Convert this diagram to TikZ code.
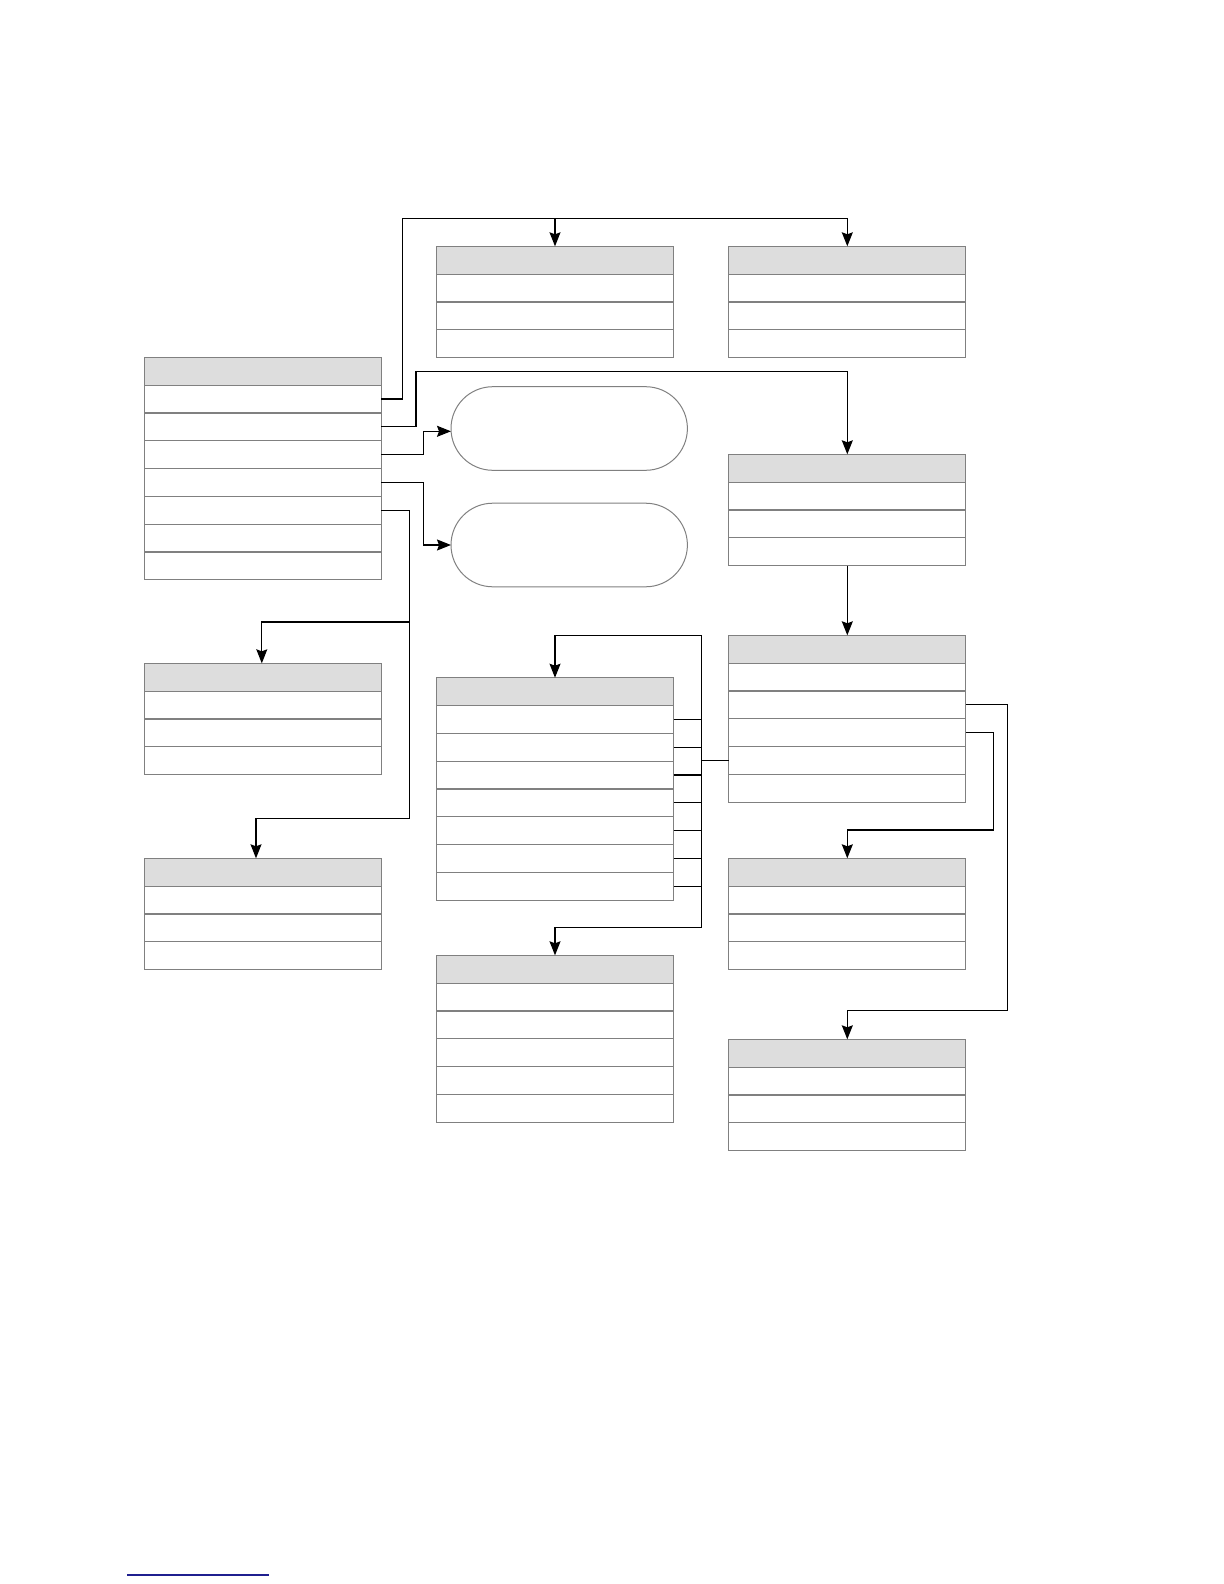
\documentclass[tikz,border=0pt]{standalone}
\usetikzlibrary{arrows.meta}
\definecolor{headgray}{HTML}{DDDDDD}
\definecolor{edgegray}{HTML}{808080}
\definecolor{linkblue}{HTML}{1F1F8F}
\begin{document}
\begin{tikzpicture}[x=0.5pt,y=-0.5pt,
    rowbox/.style={rectangle,draw=edgegray,line width=0.6pt,minimum width=118.5pt,minimum height=13.9pt,inner sep=0pt,outer sep=0pt},
    pill/.style={rectangle,draw=edgegray,line width=0.5pt,rounded corners=20.9pt,minimum width=118.2pt,minimum height=41.8pt,inner sep=0pt,outer sep=0pt},
    link/.style={draw=black,line width=0.6pt},
    flow/.style={link,-{Stealth[length=7pt,width=5.5pt,inset=1pt]}}]

  \useasboundingbox (0,0) rectangle (1224,1584);

  % tables: name / centre x / top / rows
  \begin{scope}[every node/.style={rowbox}]
    \foreach \nm/\cx/\cy/\nr in {A/262.8/357.3/7, B/555/246.3/3, C/847.3/246.3/3,
        K/847.3/454.3/3, E/847.3/635.3/5, D/555/677.7/7, F/847.3/858.3/3,
        G/555/955.3/5, H/847.3/1039.3/3, I/262.8/663.3/3, J/262.8/858.3/3}{
      \node[fill=headgray] (\nm0) at (\cx,{\cy+13.9}) {};
      \foreach \i in {1,...,\nr}
        \node (\nm\i) at (\cx,{\cy+13.9+27.8*\i}) {};
    }
  \end{scope}

  \node[pill] (P1) at (569.2,428.5) {};
  \node[pill] (P2) at (569.2,545) {};

  \coordinate (c1) at (402.3,218.3);
  \coordinate (c2) at (416,371.3);
  \coordinate (c3) at (423.3,431.3);
  \coordinate (c4) at (423.3,545);
  \coordinate (c5) at (409.3,818.3);
  \coordinate (c5a) at (409.3,622);
  \coordinate (c6) at (701.3,635.3);
  \coordinate (c6b) at (701.3,927.7);
  \coordinate (c7) at (993.3,830);
  \coordinate (c8) at (1007.3,1010.7);

  \draw[flow] (A1.east) -| (c1) -| (C0.north);
  \draw[flow] (c1 -| B0.north) -- (B0.north);
  \draw[flow] (A2.east) -| (c2) -| (K0.north);
  \draw[flow] (A3.east) -| (c3) -- (c3 -| P1.west);
  \draw[flow] (A4.east) -| (c4) -- (P2.west);
  \draw[flow] (A5.east) -| (c5) -| ([xshift=-3.4pt]J0.north);
  \draw[flow] (c5a) -| ([xshift=-0.5pt]I0.north);
  \draw[flow] (K3.south) -- (E0.north);
  \draw[flow] (c6b) -- (c6) -| (D0.north);
  \draw[flow] (c6) -- (c6b) -| (G0.north);
  \draw[link] (E4.west) -- (E4.west -| c6);
  \foreach \i in {1,...,7}
    \draw[link] (D\i.east) -- (D\i.east -| c6);
  \draw[flow] (E3.east) -| (c7) -| (F0.north);
  \draw[flow] (E2.east) -| (c8) -| (H0.north);

  \draw[linkblue,line width=0.7pt] (127.3,1575) -- (269,1575);

\end{tikzpicture}
\end{document}
